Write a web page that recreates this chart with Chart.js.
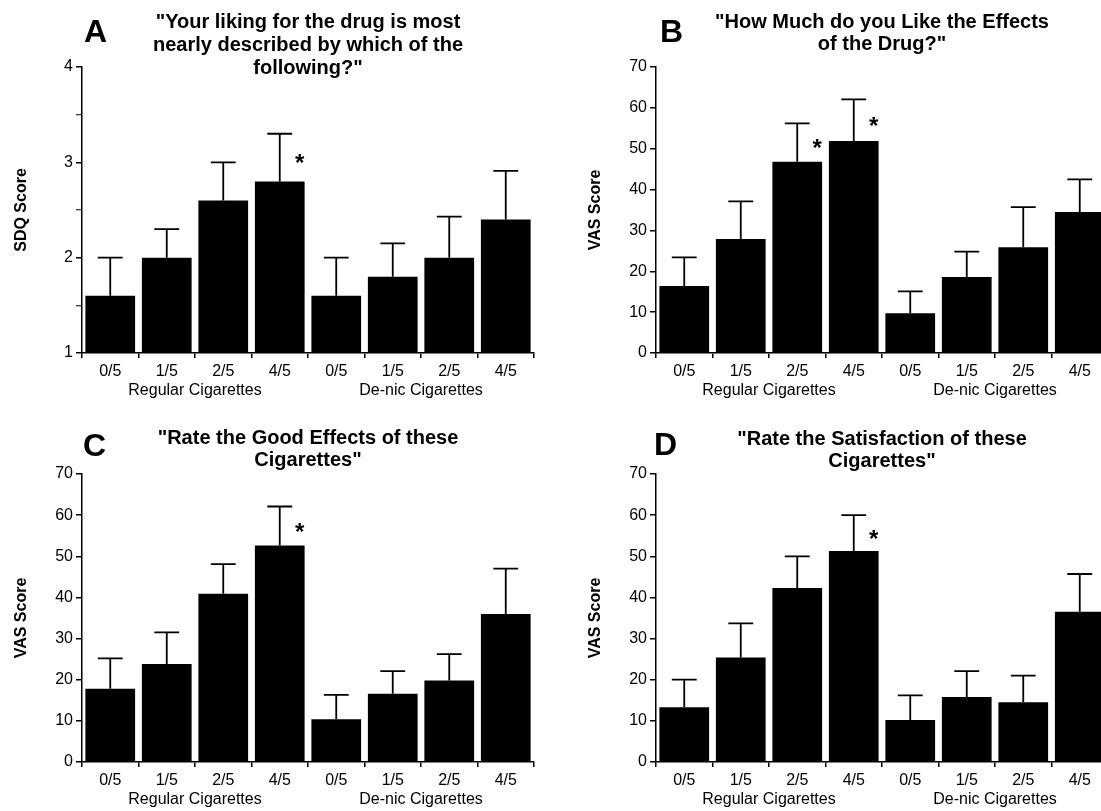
<!DOCTYPE html>
<html>
<head>
<meta charset="utf-8">
<script src="https://cdn.jsdelivr.net/npm/chart.js@4.4.1/dist/chart.umd.min.js"></script>
<style>
  html, body { margin: 0; padding: 0; background: #fff; width: 1101px; height: 811px; overflow: hidden; }
  canvas { position: absolute; }
</style>
</head>
<body>
<canvas id="panelA" width="600" height="420" style="left:0;top:0"></canvas>
<canvas id="panelB" width="600" height="420" style="left:574px;top:0"></canvas>
<canvas id="panelC" width="600" height="404" style="left:0;top:407px"></canvas>
<canvas id="panelD" width="600" height="404" style="left:574px;top:407px"></canvas>
<script>
// dose categories (cigarettes out of 5 that were nicotine / placebo)
const doseLabels = ["0/5", "1/5", "2/5", "4/5", "0/5", "1/5", "2/5", "4/5"];
const groupLabels = ["Regular Cigarettes", "De-nic Cigarettes"];

// A: SDQ liking score, means and SEM
const likingMeans = [1.6, 2.0, 2.6, 2.8, 1.6, 1.8, 2.0, 2.4];
const likingSem = [0.4, 0.3, 0.4, 0.5, 0.4, 0.35, 0.43, 0.51];
const likingStars = [3];

// B: VAS "like the effects"
const likeEffMeans = [16.4, 27.9, 46.8, 51.9, 9.7, 18.6, 25.9, 34.5];
const likeEffSem = [7.0, 9.2, 9.4, 10.2, 5.4, 6.2, 9.8, 8.0];
const likeEffStars = [2, 3];

// C: VAS good effects
const goodMeans = [17.8, 23.8, 40.9, 52.6, 10.4, 16.6, 19.8, 36.0];
const goodSem = [7.4, 7.7, 7.2, 9.5, 5.9, 5.5, 6.4, 11.0];
const goodStars = [3];

// D: VAS satisfaction
const satMeans = [13.3, 25.4, 42.3, 51.3, 10.2, 15.8, 14.5, 36.5];
const satSem = [6.7, 8.3, 7.7, 8.7, 6.0, 6.3, 6.5, 9.2];
const satStars = [3];

const sdqTicks = { min: 1, max: 4, step: 0.5, labelEvery: 1 };
const vasTicks = { min: 0, max: 70, step: 5, labelEvery: 10 };

const FONT = "'Liberation Sans', Arial, Helvetica, sans-serif";
Chart.defaults.font.family = FONT;
Chart.defaults.color = "#000";

// error bars, asterisks, panel letter and quoted title
const annotate = {
  id: "annotate",
  afterDatasetsDraw(chart, args, opts) {
    const ctx = chart.ctx;
    const ds = chart.data.datasets[0];
    const meta = chart.getDatasetMeta(0);
    const y = chart.scales.y;
    const area = chart.chartArea;
    ctx.save();
    ctx.strokeStyle = "#000";
    ctx.lineWidth = 1.8;
    meta.data.forEach((bar, i) => {
      const top = y.getPixelForValue(ds.data[i] + ds.errors[i]);
      const half = bar.width * 0.25;
      ctx.beginPath();
      ctx.moveTo(bar.x, bar.y);
      ctx.lineTo(bar.x, top);
      ctx.moveTo(bar.x - half, top);
      ctx.lineTo(bar.x + half, top);
      ctx.stroke();
    });
    ctx.fillStyle = "#000";
    ctx.font = "bold 24px " + FONT;
    ctx.textAlign = "center";
    ctx.textBaseline = "alphabetic";
    ds.stars.forEach(i => {
      const bar = meta.data[i];
      const yMid = y.getPixelForValue(ds.data[i] + ds.errors[i] / 2);
      ctx.fillText("*", bar.x + bar.width * 0.4, yMid + 24 * 0.57);
    });
    ctx.textAlign = "left";
    ctx.font = "bold 32px " + FONT;
    ctx.fillText(opts.letter, opts.letterX, opts.letterBase);
    ctx.font = "bold 20px " + FONT;
    ctx.textAlign = "center";
    const cx = (area.left + area.right) / 2 + (opts.titleShift || 0);
    opts.lines.forEach((line, k) => {
      ctx.fillText(line, cx, opts.titleBase + k * opts.lineGap);
    });
    ctx.restore();
  }
};

function makePanel(id, means, sem, stars, yTitle, tk, deco) {
  new Chart(document.getElementById(id), {
    type: "bar",
    data: {
      labels: doseLabels,
      datasets: [{
        data: means,
        errors: sem,
        stars: stars,
        backgroundColor: "#000",
        barPercentage: 0.88,
        categoryPercentage: 1.0
      }]
    },
    options: {
      responsive: false,
      animation: false,
      layout: { padding: { left: 0, top: 67, right: 66, bottom: deco.padBottom } },
      plugins: { legend: { display: false }, tooltip: { enabled: false }, annotate: deco },
      scales: {
        x: {
          type: "category",
          position: "bottom",
          offset: true,
          grid: { offset: true, drawOnChartArea: false, tickLength: 5, color: "#000", lineWidth: 1.5 },
          border: { color: "#000", width: 1.5 },
          ticks: { font: { size: 16 }, padding: 4, maxRotation: 0, autoSkip: false },
          afterFit: s => { s.height = 27; }
        },
        xg: {
          type: "category",
          position: "bottom",
          labels: groupLabels,
          offset: true,
          grid: { display: false, drawTicks: false },
          border: { display: false },
          ticks: { font: { size: 16 }, padding: 1, maxRotation: 0 },
          afterFit: s => { s.height = 22; }
        },
        y: {
          min: tk.min,
          max: tk.max,
          grid: {
            drawOnChartArea: false,
            tickLength: 6,
            color: "#000",
            lineWidth: 1.5,
            tickWidth: c => (c.tick && c.tick.value % tk.labelEvery === 0 ? 1.5 : 1)
          },
          border: { color: "#000", width: 1.5 },
          ticks: {
            stepSize: tk.step,
            font: { size: 16 },
            padding: 3,
            callback: v => (v % tk.labelEvery === 0 ? v : "")
          },
          title: { display: true, text: yTitle, font: { size: 16, weight: "bold" }, padding: { top: 12, bottom: 0 } },
          afterFit: s => { s.width = 82; }
        }
      }
    },
    plugins: [annotate]
  });
}

makePanel("panelA", likingMeans, likingSem, likingStars, "SDQ Score", sdqTicks, {
  letter: "A", letterX: 84, letterBase: 42, titleBase: 28, lineGap: 23, padBottom: 18,
  lines: ["\"Your liking for the drug is most", "nearly described by which of the", "following?\""]
});
makePanel("panelB", likeEffMeans, likeEffSem, likeEffStars, "VAS Score", vasTicks, {
  letter: "B", letterX: 86, letterBase: 42, titleBase: 28, lineGap: 22, padBottom: 18,
  lines: ["\"How Much do you Like the Effects", "of the Drug?\""]
});
makePanel("panelC", goodMeans, goodSem, goodStars, "VAS Score", vasTicks, {
  letter: "C", letterX: 83, letterBase: 49, titleBase: 37, lineGap: 22, padBottom: 0,
  lines: ["\"Rate the Good Effects of these", "Cigarettes\""]
});
makePanel("panelD", satMeans, satSem, satStars, "VAS Score", vasTicks, {
  letter: "D", letterX: 80, letterBase: 48, titleBase: 38, lineGap: 22, padBottom: 0,
  lines: ["\"Rate the Satisfaction of these", "Cigarettes\""]
});
</script>
</body>
</html>
